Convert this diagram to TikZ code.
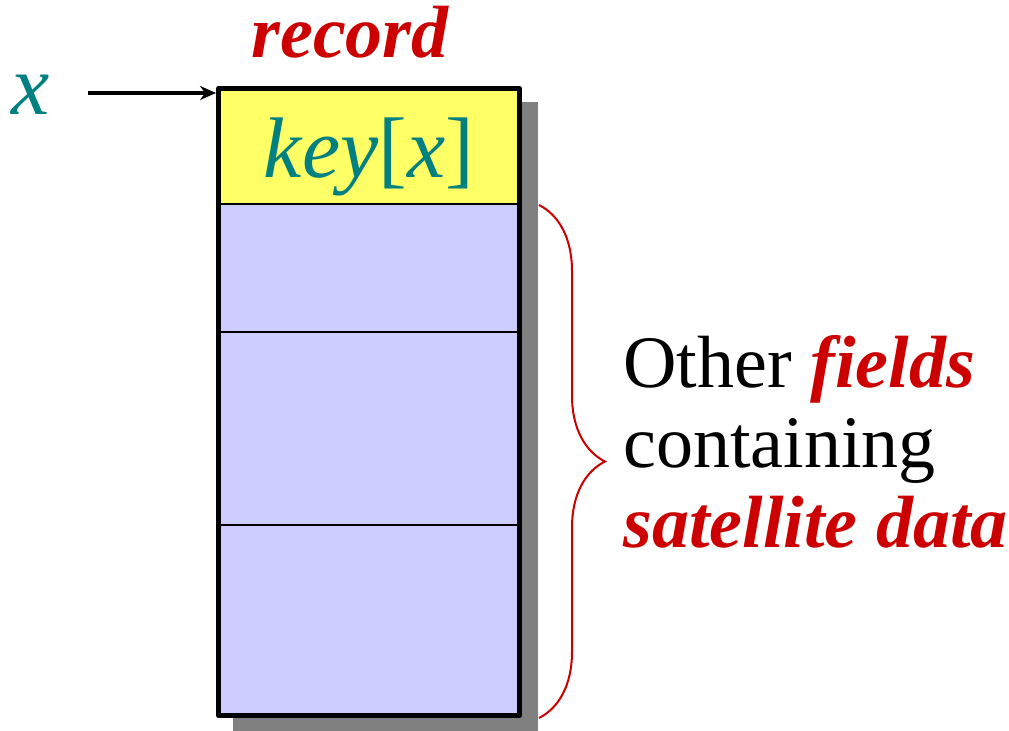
\documentclass[tikz,border=0pt]{standalone}
\usepackage{fontspec}
\setmainfont{Liberation Serif}
\usetikzlibrary{positioning,arrows.meta,decorations.pathreplacing}

\definecolor{keyteal}{RGB}{0,128,128}
\definecolor{recred}{RGB}{204,0,0}
\definecolor{keyyellow}{RGB}{255,255,102}
\definecolor{fieldblue}{RGB}{204,204,255}
\definecolor{shadowgray}{RGB}{128,128,128}

\tikzset{
    field/.style={draw, line width=1pt, fill=fieldblue, minimum width=150.5pt,
        inner sep=0pt, outer sep=0pt},
    redword/.style={font=\fontsize{37}{40}\selectfont\bfseries\itshape, text=recred},
}

\begin{document}
\begin{tikzpicture}[x=0.5pt, y=-0.5pt, >={Stealth[length=8pt, width=7pt]}]
    \useasboundingbox (0,0) rectangle (1009,731);

    % shadow of the record
    \fill[shadowgray] (233,102) rectangle (538,731);

    \node (key) [field, fill=keyyellow, minimum height=57.75pt,
        text height=31.75pt, text depth=0pt,
        font=\fontsize{43}{46}\selectfont, text=keyteal] at (369,146.25)
        {\textit{key}[\textit{x}]};
    \node (f1) [field, minimum height=64pt, below=0pt of key] {};
    \node (f2) [field, minimum height=96.5pt, below=0pt of f1] {};
    \node (f3) [field, minimum height=95.25pt, below=0pt of f2] {};
    \draw[line width=2.5pt, line join=round] (key.north west) rectangle (f3.south east);

    \node (rec) [redword, anchor=base, inner sep=0pt] at (350,58) {record};

    \node (xptr) [font=\fontsize{43}{46}\selectfont\itshape, text=keyteal,
        anchor=base, inner sep=0pt] at (31,115) {x};
    \coordinate (ptrstart) at (88,93);
    \draw[->, line width=2pt, shorten >=1.25pt] (ptrstart) -- (ptrstart -| key.west);

    % brace over the satellite fields
    \coordinate (bracetop) at (539,205);
    \coordinate (bracebot) at (539,718);
    \draw[recred, line width=1pt, decorate, decoration={brace, amplitude=33pt}]
        (bracetop) -- (bracebot);

    \node (other) [anchor=base west, inner sep=0pt, align=left,
        font=\fontsize{37}{40}\selectfont] at (623,548)
        {Other \textcolor{recred}{\bfseries\itshape fields}\\
         containing\\
         \textcolor{recred}{\bfseries\itshape satellite data}};
\end{tikzpicture}
\end{document}
